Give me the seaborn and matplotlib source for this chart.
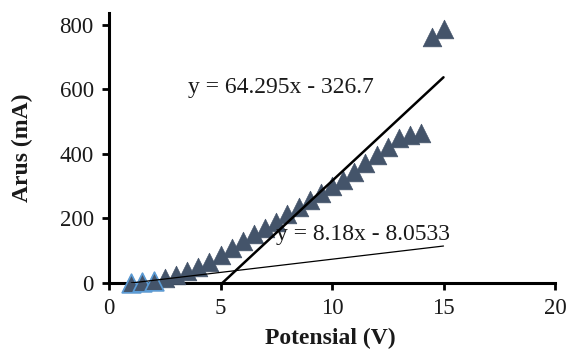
import numpy as np
import pandas as pd
import matplotlib
matplotlib.use("Agg")
import matplotlib.pyplot as plt
import seaborn as sns

# Data
potensial = [1, 1.5, 2, 2.5, 3, 3.5, 4, 4.5, 5, 5.5, 6, 6.5, 7, 7.5, 8, 8.5,
             9, 9.5, 10, 10.5, 11, 11.5, 12, 12.5, 13, 13.5, 14, 14.5, 15]
arus = [0, 2, 5, 14, 24, 36, 50, 66, 86, 107, 131, 153, 170, 190, 215, 237,
        257, 278, 300, 320, 345, 372, 397, 423, 448, 458, 465, 762, 786]
fit_steep = (64.295, -326.7)
fit_flat = (8.18, -8.0533)
label_steep = "y = 64.295x - 326.7"
label_flat = "y = 8.18x - 8.0533"
x_ticks = [0, 5, 10, 15, 20]
y_ticks = [0, 200, 400, 600, 800]
xlabel = "Potensial (V)"
ylabel = "Arus (mA)"

sns.set_theme(style="white")
plt.rcParams['font.family'] = ['Liberation Serif', 'DejaVu Serif']

df = pd.DataFrame({"x": potensial, "y": arus})

fig = plt.figure(figsize=(5.69, 3.54), dpi=100)
ax = fig.add_axes([109/569, 1-283/354, 446/569, 270/354])

marker_color = "#44546A"
sns.scatterplot(data=df, x="x", y="y", marker="^", s=180, color=marker_color,
                edgecolor=marker_color, linewidth=0.5, ax=ax, clip_on=False, zorder=3)
# light blue edges on first few overlapping points
sns.scatterplot(data=df.iloc[:3], x="x", y="y", marker="^", s=180, color=marker_color,
                edgecolor="#5B9BD5", linewidth=1.2, ax=ax, clip_on=False, zorder=3)

# trend lines
m1, b1 = fit_steep
x0 = -b1 / m1
xs1 = np.array([x0, max(potensial)])
sns.lineplot(x=xs1, y=m1 * xs1 + b1, color="black", linewidth=1.8, ax=ax, zorder=4)
m2, b2 = fit_flat
xs2 = np.array([min(potensial), max(potensial)])
sns.lineplot(x=xs2, y=m2 * xs2 + b2, color="black", linewidth=0.9, ax=ax, zorder=4)

ax.text(3.55, 605, label_steep, fontsize=17, va="center", ha="left", color="#1a1a1a")
ax.text(7.5, 149, label_flat, fontsize=17, va="center", ha="left", color="#1a1a1a")

ax.set_xlim(0, 20)
ax.set_ylim(0, 837)
ax.set_xticks(x_ticks)
ax.set_yticks(y_ticks)
ax.set_xticklabels([str(t) for t in x_ticks])
ax.set_yticklabels([str(t) for t in y_ticks])

for side in ["top", "right"]:
    ax.spines[side].set_visible(False)
for side in ["left", "bottom"]:
    ax.spines[side].set_color("black")
    ax.spines[side].set_linewidth(2.2)

ax.tick_params(axis="both", direction="out", length=5, width=2, color="black",
               labelsize=16.5, labelcolor="#1a1a1a", bottom=True, left=True)
ax.tick_params(axis="y", pad=6)
ax.tick_params(axis="x", pad=6)

ax.set_xlabel(xlabel, fontsize=17, fontweight="bold", color="#1a1a1a")
ax.set_ylabel(ylabel, fontsize=17, fontweight="bold", color="#1a1a1a")
ax.xaxis.set_label_coords(0.496, -0.165)
ax.yaxis.set_label_coords(-0.170, 0.5)

fig.savefig("out.png", dpi=100)
